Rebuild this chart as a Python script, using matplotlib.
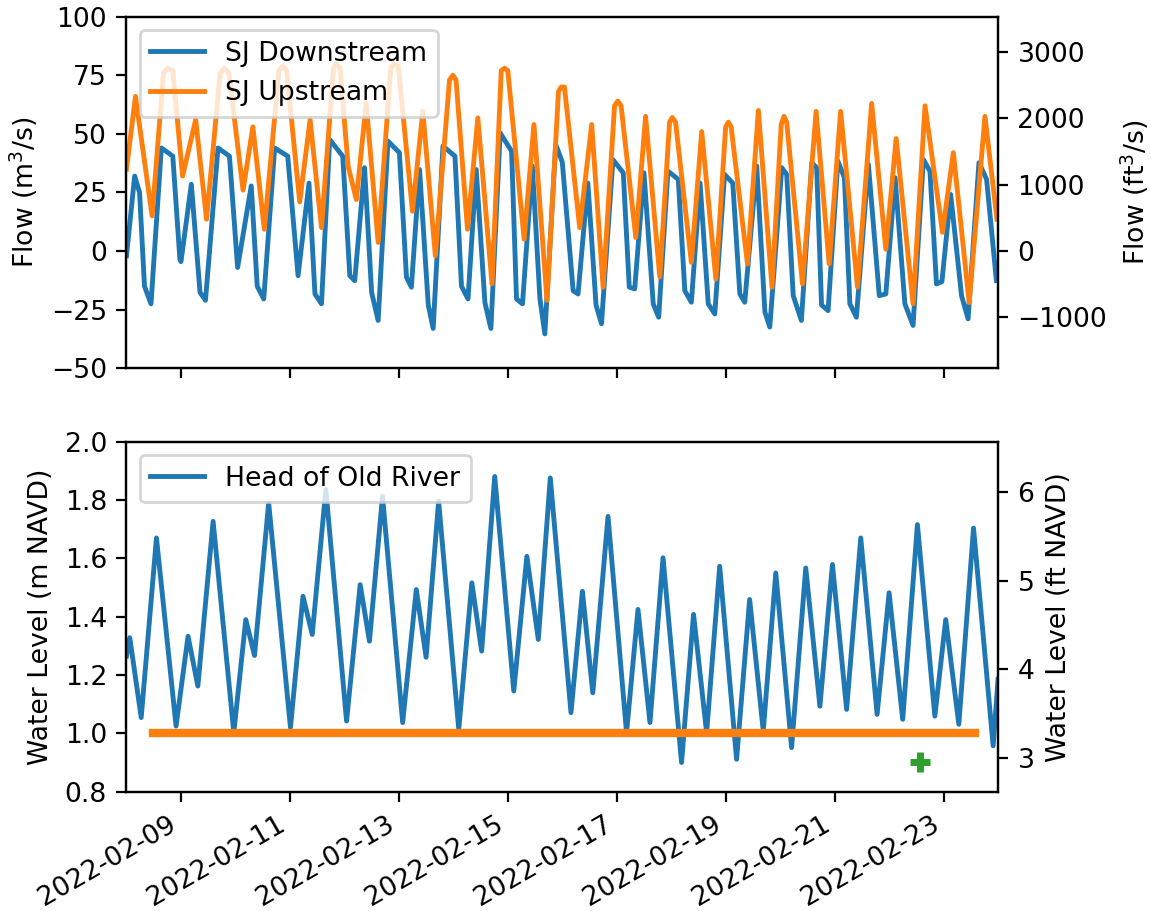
import numpy as np
import pandas as pd
import matplotlib
matplotlib.use("Agg")
import matplotlib.pyplot as plt
import matplotlib.dates as mdates

# ----------------------
# data (days after 2022-02-08 00:00)
# ----------------------
t0 = pd.Timestamp("2022-02-08")

# SJ Downstream flow, m3/s
dn_days = [0.00, 0.15, 0.24, 0.33, 0.45, 0.64, 0.85, 0.98, 1.00, 1.19, 1.35, 1.45,
           1.68, 1.89, 2.04, 2.29, 2.40, 2.52, 2.72, 2.96, 3.15, 3.35, 3.46, 3.58,
           3.73, 3.97, 4.10, 4.19, 4.37, 4.50, 4.62, 4.80, 5.01, 5.14, 5.23, 5.38,
           5.54, 5.63, 5.81, 6.03, 6.15, 6.27, 6.42, 6.58, 6.69, 6.86, 7.07, 7.16,
           7.27, 7.45, 7.59, 7.68, 7.88, 8.00, 8.20, 8.29, 8.47, 8.62, 8.72, 8.93,
           9.12, 9.23, 9.33, 9.50, 9.67, 9.77, 9.94, 10.13, 10.25, 10.37, 10.53, 10.68,
           10.80, 10.98, 11.13, 11.26, 11.35, 11.57, 11.72, 11.81, 12.03, 12.12, 12.24, 12.39,
           12.58, 12.67, 12.76, 12.88, 13.06, 13.18, 13.28, 13.40, 13.62, 13.82, 13.94, 14.11,
           14.29, 14.44, 14.63, 14.75, 14.87, 14.97, 15.13, 15.33, 15.45, 15.65, 15.79, 15.97]
dn_flow = [-2, 32, 25, -15, -22.5, 44, 40.5, -3.4, -4.5, 28.5, -17.6, -21,
           44, 40.5, -7, 27.8, -15, -20.4, 44, 40.5, -10.5, 29, -18.3, -22.5,
           47.6, 40.5, -10.5, -12.6, 35.6, -17.6, -29.6, 46.9, 42, -11.2, -15.4, 34.8,
           -23, -33, 44.8, 40.5, -15, -20.4, 34.8, -22, -33, 50.4, 42.6, -20.4,
           -22.5, 36.3, -20.4, -35.3, 45.5, 38, -16.9, -18.3, 29, -23, -31, 39,
           33.4, -15.4, -16.1, 33.4, -22.5, -28.2, 34.1, 30.6, -16.9, -21.8, 29, -22.5,
           -26.8, 32.7, 29, -18.3, -21.8, 36.3, -26, -32.4, 35.6, 32.7, -19, -29.6,
           37.7, 35.6, -23, -25.4, 38.4, 31.3, -22.5, -28.2, 37, -19, -18.3, 31.3,
           -22.5, -31.7, 39, 34.1, -14, -13, 24.2, -19, -28.9, 37.7, 30.6, -12.6]

# SJ Upstream flow, m3/s
up_days = [0.00, 0.165, 0.47, 0.68, 0.76, 0.85, 1.03, 1.27, 1.47, 1.72, 1.80, 1.88,
           2.14, 2.32, 2.53, 2.80, 2.87, 2.94, 3.18, 3.37, 3.58, 3.80, 3.85, 3.92,
           4.07, 4.22, 4.40, 4.62, 4.85, 4.92, 4.99, 5.25, 5.44, 5.67, 5.93, 5.99,
           6.05, 6.26, 6.45, 6.71, 6.88, 6.94, 7.00, 7.30, 7.48, 7.72, 7.93, 7.98,
           8.04, 8.32, 8.54, 8.75, 8.96, 9.02, 9.08, 9.35, 9.53, 9.79, 9.97, 10.02,
           10.08, 10.37, 10.56, 10.82, 11.00, 11.05, 11.10, 11.40, 11.60, 11.85, 12.02, 12.07,
           12.12, 12.41, 12.66, 12.90, 13.11, 13.42, 13.68, 13.94, 14.13, 14.44, 14.66, 14.98,
           15.18, 15.47, 15.76, 15.98]
up_flow = [35, 66, 15, 76, 78, 77, 32, 56, 13.6, 76, 78, 76,
           26, 53, 9.3, 77, 79, 77, 21, 56, 10, 78, 80, 78,
           36, 22, 63, 3.7, 78, 80, 79, 17, 59.6, -2, 73, 75,
           73, 9.3, 56.8, -14, 77, 78, 77, 5.1, 54, -21, 68, 70,
           70, 10, 54, -15.4, 62, 64, 62, 5.8, 57.5, -11, 55, 57,
           55, -4.8, 51, -12, 53, 55, 53, -5.5, 60, -15.4, 54, 57.5,
           55, -14, 59.6, -5.5, 59.6, -15.4, 63, 0.8, 48, -22.5, 62, 8,
           42, -22, 57.5, 13.6]

# Head of Old River water level, m NAVD
wl_days = [0.00, 0.06, 0.27, 0.55, 0.91, 1.13, 1.31, 1.59, 1.97, 2.19, 2.35, 2.61,
           3.01, 3.24, 3.41, 3.66, 4.04, 4.29, 4.46, 4.70, 5.07, 5.32, 5.50, 5.73,
           6.10, 6.34, 6.52, 6.76, 7.11, 7.35, 7.56, 7.78, 8.16, 8.37, 8.56, 8.84,
           9.18, 9.39, 9.61, 9.85, 10.19, 10.41, 10.65, 10.89, 11.20, 11.44, 11.69, 11.92,
           12.21, 12.47, 12.73, 12.96, 13.22, 13.48, 13.78, 14.00, 14.25, 14.52, 14.84, 15.04,
           15.28, 15.55, 15.91, 16.00]
wl_level = [1.265, 1.328, 1.054, 1.670, 1.025, 1.333, 1.162, 1.727, 1.002, 1.390, 1.267, 1.790,
            1.020, 1.470, 1.339, 1.836, 1.042, 1.510, 1.316, 1.813, 1.037, 1.493, 1.261, 1.796,
            1.014, 1.516, 1.282, 1.881, 1.145, 1.607, 1.322, 1.876, 1.071, 1.487, 1.139, 1.744,
            1.002, 1.425, 1.037, 1.602, 0.900, 1.408, 1.002, 1.573, 0.911, 1.459, 1.008, 1.550,
            0.951, 1.567, 1.093, 1.579, 1.082, 1.670, 1.065, 1.482, 1.048, 1.716, 1.059, 1.390,
            1.031, 1.704, 0.957, 1.185]

# threshold line and single observation
thr_days = [0.48, 15.58]
thr_level = [1.0, 1.0]
obs_days = [14.57]
obs_level = [0.90]

M3_TO_FT3 = 35.3147
M_TO_FT = 3.28084


def to_time(days):
    return t0 + pd.to_timedelta(np.array(days), unit="D")


plt.rcParams["font.size"] = 9.6

# ----------------------
# figure
# ----------------------
fig = plt.figure(figsize=(5.755, 4.555), dpi=200)
ax1 = fig.add_axes([0.1099, 0.5957, 0.7572, 0.3860])
ax2 = fig.add_axes([0.1099, 0.1310, 0.7572, 0.3841], sharex=ax1)

ax1.plot(to_time(dn_days), dn_flow, color="tab:blue", lw=1.75, label="SJ Downstream")
ax1.plot(to_time(up_days), up_flow, color="tab:orange", lw=1.75, label="SJ Upstream")
ax1.set_ylim(-50, 100)
ax1.set_yticks([-50, -25, 0, 25, 50, 75, 100])
ax1.set_ylabel("Flow (m$^3$/s)")
ax1.legend(loc="upper left")
ax1.tick_params(labelbottom=False)

ax1r = ax1.twinx()
ax1r.set_ylim(-50 * M3_TO_FT3, 100 * M3_TO_FT3)
ax1r.set_yticks([-1000, 0, 1000, 2000, 3000])
ax1r.set_ylabel("Flow (ft$^3$/s)")

ax2.plot(to_time(wl_days), wl_level, color="tab:blue", lw=1.75, label="Head of Old River")
ax2.plot(to_time(thr_days), thr_level, color="tab:orange", lw=3)
ax2.plot(to_time(obs_days), obs_level, "+", color="tab:green", ms=7, mew=2.5)
ax2.set_ylim(0.8, 2.0)
ax2.set_ylabel("Water Level (m NAVD)")
ax2.legend(loc="upper left")

ax2r = ax2.twinx()
ax2r.set_ylim(0.8 * M_TO_FT, 2.0 * M_TO_FT)
ax2r.set_yticks([3, 4, 5, 6])
ax2r.set_ylabel("Water Level (ft NAVD)")

ax2.set_xlim(pd.Timestamp("2022-02-08"), pd.Timestamp("2022-02-24"))
ax2.xaxis.set_major_locator(mdates.DayLocator(bymonthday=range(1, 32, 2)))
ax2.xaxis.set_major_formatter(mdates.DateFormatter("%Y-%m-%d"))
for lbl in ax2.get_xticklabels():
    lbl.set_rotation(30)
    lbl.set_ha("right")

fig.savefig("out.png", dpi=200)
